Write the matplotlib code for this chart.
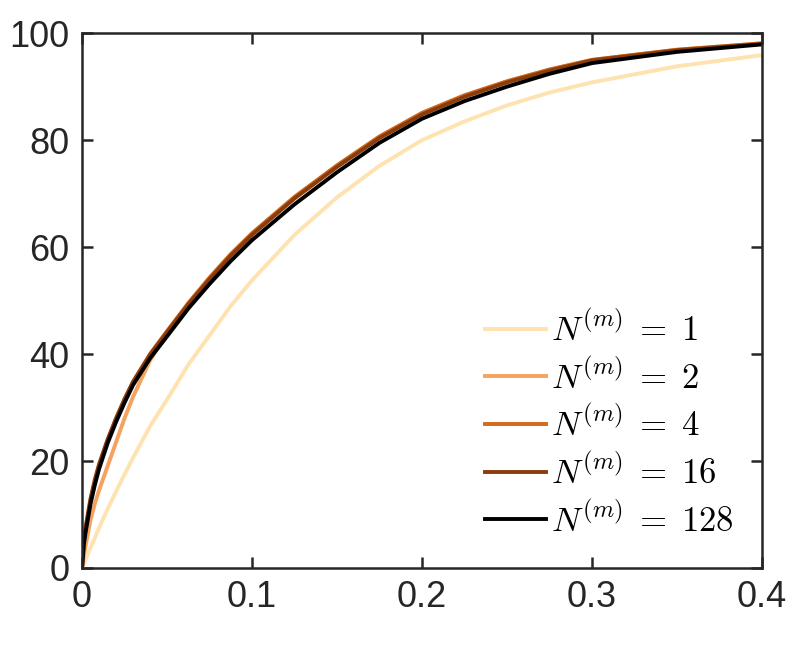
#!/usr/bin/env python3
"""plot.py"""

import matplotlib
matplotlib.use("Agg")
import matplotlib.pyplot as plt

x_vals = [0, 0.001, 0.002, 0.005, 0.0075, 0.01, 0.015, 0.02, 0.025, 0.03,
          0.04, 0.05, 0.0625, 0.075, 0.0875, 0.1, 0.125, 0.15, 0.175, 0.2,
          0.225, 0.25, 0.275, 0.3, 0.35, 0.4]

# curve values, one list per N^(m)
n1 = [0, 0.8, 1.5, 3.8, 5.6, 7.5, 11.0, 14.3, 17.5, 20.6,
      26.5, 31.5, 38.0, 43.5, 49.0, 53.8, 62.3, 69.3, 75.2, 80.0,
      83.5, 86.5, 88.9, 90.8, 93.8, 95.9]
n2 = [0, 2.2, 4.0, 9.0, 12.0, 14.5, 19.0, 23.5, 28.0, 32.0,
      38.8, 44.0, 49.5, 54.2, 58.6, 62.4, 69.2, 75.1, 80.5, 85.0,
      88.3, 91.0, 93.2, 95.0, 96.9, 98.1]
n4 = [0, 4.5, 7.0, 12.5, 16.0, 19.0, 23.8, 27.8, 31.5, 34.8,
      40.0, 44.3, 49.5, 54.3, 58.7, 62.6, 69.4, 75.3, 80.7, 85.1,
      88.4, 91.0, 93.2, 95.0, 96.9, 98.1]
n16 = [0, 5.0, 7.5, 13.0, 16.5, 19.4, 24.0, 28.0, 31.6, 34.8,
       39.9, 44.1, 49.3, 54.0, 58.4, 62.3, 69.1, 75.0, 80.4, 84.8,
       88.1, 90.8, 93.0, 94.9, 96.8, 98.0]
n128 = [0, 4.2, 6.5, 12.0, 15.5, 18.5, 23.3, 27.3, 30.9, 34.2,
        39.2, 43.3, 48.5, 53.1, 57.4, 61.3, 68.0, 74.0, 79.5, 84.0,
        87.3, 90.0, 92.4, 94.4, 96.5, 97.9]

labels = ["1", "2", "4", "16", "128"]
colors = ["#fee2b0", "#f5a25c", "#d4691c", "#8a3c0c", "#000000"]

x_ticks = [0, 0.1, 0.2, 0.3, 0.4]
x_tick_labels = ["0", "0.1", "0.2", "0.3", "0.4"]
y_ticks = [0, 20, 40, 60, 80, 100]


def main() -> None:
    plt.rcParams["font.family"] = ["Liberation Sans", "DejaVu Sans"]
    plt.rcParams["mathtext.fontset"] = "cm"

    fig = plt.figure(figsize=(7.98, 6.63), dpi=100)
    ax = fig.add_axes([0.1028, 0.1433, 0.8522, 0.8067])

    series = [n1, n2, n4, n16, n128]
    for ys, lab, col in zip(series, labels, colors):
        ax.plot(x_vals, ys, color=col, linewidth=2.8,
                label=r"$N^{(m)}\;=\;" + lab + "$")

    ax.set_xlim(0, 0.4)
    ax.set_ylim(0, 100)
    ax.set_xticks(x_ticks)
    ax.set_xticklabels(x_tick_labels)
    ax.set_yticks(y_ticks)

    # MATLAB-ish box with inward ticks on all sides
    for sp in ax.spines.values():
        sp.set_color("#262626")
        sp.set_linewidth(1.8)
    ax.tick_params(direction="in", length=8, width=1.8, colors="#262626",
                   labelsize=26, top=True, right=True, pad=9)
    for t in ax.get_xticklabels() + ax.get_yticklabels():
        t.set_color("#262626")

    ax.legend(loc="lower right", frameon=False, fontsize=25,
              handlelength=1.75, handletextpad=0.15, labelspacing=0.33,
              borderaxespad=0.0, borderpad=0.0,
              bbox_to_anchor=(0.958, 0.055))

    fig.savefig("out.png", dpi=100)


if __name__ == "__main__":
    main()
